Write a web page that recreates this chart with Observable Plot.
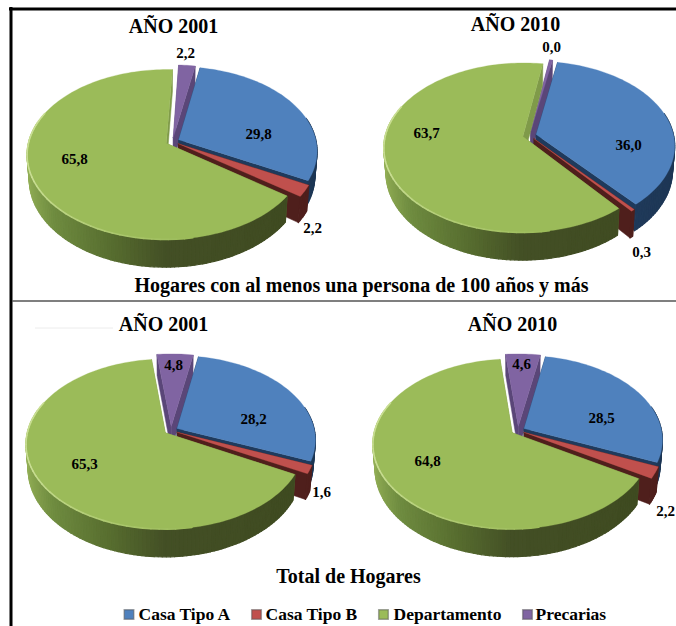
<!DOCTYPE html>
<html>
<head>
<meta charset="utf-8">
<script src="https://cdn.jsdelivr.net/npm/d3@7"></script>
<script src="https://cdn.jsdelivr.net/npm/@observablehq/plot@0.6"></script>
<style>
  html, body { margin: 0; padding: 0; background: #fff; }
  svg { display: block; }
  g[aria-label="section"] text { word-spacing: 1px; letter-spacing: 0.7px; }
  g[aria-label="year"] text { letter-spacing: 0.3px; }
  g[aria-label="legend-label"] text { letter-spacing: 1px; }
</style>
</head>
<body>
<div id="chart"></div>
<script>
// ---- data ----
const categories = ["Casa Tipo A", "Casa Tipo B", "Departamento", "Precarias"];
const centenarios2001 = [29.8, 2.2, 65.8, 2.2];
const centenarios2010 = [36.0, 0.3, 63.7, 0.0];
const total2001 = [28.2, 1.6, 65.3, 4.8];
const total2010 = [28.5, 2.2, 64.8, 4.6];
const yearTitles = ["AÑO 2001", "AÑO 2010", "AÑO 2001", "AÑO 2010"];
const sectionTitles = ["Hogares con al menos una persona de 100 años y más", "Total de Hogares"];

// ---- styles and layout ----
const topColors = ["#4f81bd", "#c0504d", "#9bbb59", "#8064a2"];
const wallColors = ["#1f3a5c", "#4f1f1c", "#3f4a22", "#4c3a66"];
const faceColors = ["#1f3a5c", "#4f1f1c", "#7f9a49", "#5a4678"];
const pies = [
  {values: centenarios2001, cx: 172, cy: 141, title: [173, 26],
   labels: [[86, -7], [140, 87], [-98, 18], [13, -88]]},
  {values: centenarios2010, cx: 529, cy: 135, title: [515, 24],
   labels: [[99, 10], [112, 117], [-103, -2], [22, -88]]},
  {values: total2001, cx: 170.5, cy: 430, title: [163, 324],
   labels: [[82.5, -11], [150.5, 62], [-86.5, 34], [2.5, -65]]},
  {values: total2010, cx: 517.5, cy: 430, title: [512, 324],
   labels: [[83.5, -12], [147.5, 81], [-90.5, 31], [3.5, -66]]}
];
const legendSquareX = [128.5, 256, 383, 527];
const legendTextX = [138, 265, 393, 535];
const startAngle = 10.5, explode = 0.05, R = 137.5, Q = 83, persp = 0.131, depth = 24, minShare = 0.4;

const rad = d => d * Math.PI / 180;
function project(p, u, v, z) {
  const w = 1 + persp * v, s = z ? 0.985 : 1;
  return [p.cx + R * u / w * s, p.cy - Q * v / w + depth * z / w];
}
const greenStops = d3.scaleLinear()
  .domain([-1, -0.75, -0.35, 0, 1])
  .range(["#93af56", "#6f8c40", "#576d2f", "#434f25", "#3e4a20"]);
const wallColor = (i, u) => i === 2 ? greenStops(u)
  : i === 0 ? d3.interpolateRgb("#2a4a73", "#1d3654")((u + 1) / 2) : wallColors[i];

const polys = [];
const rim = [];
let id = 0;
function addPoly(points, col, sw) {
  id++;
  for (const [x, y] of [...points, points[0]]) polys.push({id, x, y, col, sw});
}
pies.forEach(p => {
  const drawn = p.values.map(v => Math.max(v, minShare));
  const sum = d3.sum(drawn);
  let a = startAngle;
  const spans = drawn.map(v => { const s = [a, a + v / sum * 360]; a = s[1]; return s; });
  // painter's order: back slice first, front slice last
  for (const i of [3, 0, 1, 2]) {
    const [a0, a1] = spans[i], m = rad((a0 + a1) / 2);
    const ox = explode * Math.sin(m), oy = explode * Math.cos(m);
    const pt = (deg, z) => project(p, ox + Math.sin(rad(deg)), oy + Math.cos(rad(deg)), z);
    const apex = z => project(p, ox, oy, z);
    addPoly([apex(0), pt(a0, 0), pt(a0, 1), apex(1)], faceColors[i], 0.5);
    addPoly([apex(0), pt(a1, 0), pt(a1, 1), apex(1)], faceColors[i], 0.5);
    const steps = Math.max(1, Math.ceil((a1 - a0) / 1.5));
    const angles = d3.range(steps + 1).map(k => a0 + (a1 - a0) * k / steps);
    for (let k = 0; k < steps; k++) {
      const c = Math.cos(rad(angles[k])), c2 = Math.cos(rad(angles[k + 1]));
      if (c >= 0.25 && c2 >= 0.25) continue;
      const u = Math.sin(rad((angles[k] + angles[k + 1]) / 2));
      addPoly([pt(angles[k], 0), pt(angles[k + 1], 0), pt(angles[k + 1], 1), pt(angles[k], 1)], wallColor(i, u), 1.2);
    }
    addPoly([apex(0), ...angles.map(d => pt(d, 0))], topColors[i], 0.3);
    if (i === 2) {
      const from = Math.max(a0, 170), to = Math.min(a1, 292);
      const n = Math.ceil((to - from) / 3);
      d3.range(n).forEach(k => {
        const d0 = from + (to - from) * k / n, d1 = from + (to - from) * (k + 1) / n;
        const t = Math.min(1, (k + 0.5) / n * 1.6);
        const col = d3.interpolateRgb("#9bbb59", "#c9de93")(t);
        id++;
        for (const d of [d0, d1]) { const [x, y] = pt(d, 0); rim.push({id, x, y, col}); }
      });
    }
  }
});

const comma = v => v.toFixed(1).replace(".", ",");
const valueLabels = pies.flatMap(p => p.values.map((v, i) => ({
  text: comma(v), x: p.cx + p.labels[i][0], y: p.cy + p.labels[i][1]
})));
const titleRows = pies.map((p, i) => ({text: yearTitles[i], x: p.title[0], y: p.title[1]}));
const serif = {fontFamily: "'Liberation Serif', serif", fontWeight: "bold", fill: "#000"};

const chart = Plot.plot({
  width: 676,
  height: 626,
  margin: 0,
  style: {background: "#fff"},
  x: {domain: [0, 676], range: [0, 676], axis: null},
  y: {domain: [0, 626], range: [0, 626], axis: null},
  color: {domain: categories, range: topColors},
  marks: [
    Plot.ruleY([8.5], {x1: 9, x2: 676, stroke: "#000", strokeWidth: 3}),
    Plot.ruleX([10.5], {y1: 7, y2: 626, stroke: "#000", strokeWidth: 3}),
    Plot.ruleY([300.5], {x1: 12, x2: 676, stroke: "#555", strokeWidth: 1.5}),
    Plot.ruleY([327.5], {x1: 35, x2: 113, stroke: "#ececec", strokeWidth: 1}),
    Plot.line(polys, {x: "x", y: "y", z: "id", fill: {value: "col", scale: null},
      stroke: {value: "col", scale: null}, strokeWidth: "sw"}),
    Plot.line(rim, {x: "x", y: "y", z: "id", stroke: {value: "col", scale: null}, strokeWidth: 1.6}),
    Plot.text(valueLabels, {x: "x", y: "y", text: "text", fontSize: 15, ...serif}),
    Plot.text(titleRows, {x: "x", y: "y", text: "text", fontSize: 20, ariaLabel: "year", ...serif}),
    Plot.text([sectionTitles[0]], {x: 361, y: 285, text: d => d, fontSize: 20, ariaLabel: "section", ...serif}),
    Plot.text([sectionTitles[1]], {x: 348, y: 576, text: d => d, fontSize: 20, ariaLabel: "section", ...serif}),
    Plot.dot(categories, {x: (d, i) => legendSquareX[i], y: 614, fill: d => d, symbol: "square", r: 5.4,
      stroke: "#555", strokeOpacity: 0.5}),
    Plot.text(categories, {x: (d, i) => legendTextX[i], y: 614, text: d => d, textAnchor: "start", fontSize: 17.5,
      ariaLabel: "legend-label", ...serif})
  ]
});
document.getElementById("chart").appendChild(chart);
</script>
</body>
</html>
